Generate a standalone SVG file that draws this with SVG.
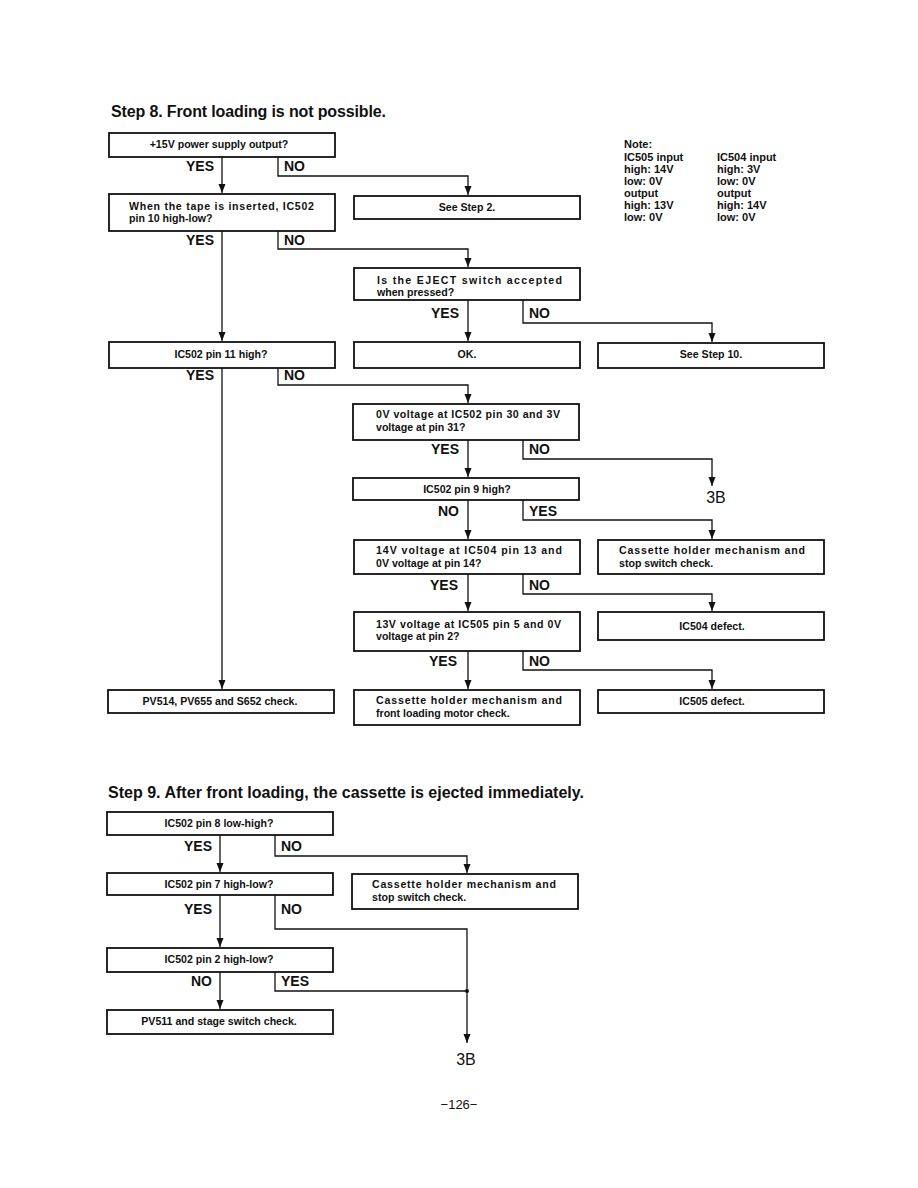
<svg xmlns="http://www.w3.org/2000/svg" width="918" height="1188" viewBox="0 0 918 1188">
<style>
.box{fill:#fff;stroke:#111;stroke-width:1.8}
.t{font-family:"Liberation Sans",Arial,sans-serif;font-weight:bold;font-size:10.6px;fill:#111}
.c{text-anchor:middle}
.yn{font-family:"Liberation Sans",Arial,sans-serif;font-weight:bold;font-size:14px;fill:#111}
.title{font-family:"Liberation Sans",Arial,sans-serif;font-weight:bold;font-size:16px;fill:#111}
.big{font-family:"Liberation Sans",Arial,sans-serif;font-size:16px;fill:#111;text-anchor:middle}
.note{font-family:"Liberation Sans",Arial,sans-serif;font-weight:bold;font-size:11px;fill:#111}
.ln{fill:none;stroke:#111;stroke-width:1.3}
</style>
<defs>
<marker id="ah" markerUnits="userSpaceOnUse" markerWidth="8" markerHeight="11" refX="9" refY="3.5" orient="auto">
<path d="M0,0 L9,3.5 L0,7 z" fill="#111"/>
</marker>
</defs>
<rect width="918" height="1188" fill="#fff"/>

<text class="title" x="111" y="117" textLength="275">Step 8. Front loading is not possible.</text>

<g id="note">
<text class="note" x="624" y="148">Note:</text>
<text class="note" x="624" y="161">IC505 input</text>
<text class="note" x="624" y="173">high: 14V</text>
<text class="note" x="624" y="185">low: 0V</text>
<text class="note" x="624" y="197">output</text>
<text class="note" x="624" y="209">high: 13V</text>
<text class="note" x="624" y="221">low: 0V</text>
<text class="note" x="717" y="161">IC504 input</text>
<text class="note" x="717" y="173">high: 3V</text>
<text class="note" x="717" y="185">low: 0V</text>
<text class="note" x="717" y="197">output</text>
<text class="note" x="717" y="209">high: 14V</text>
<text class="note" x="717" y="221">low: 0V</text>
</g>

<g id="connectors">
<path class="ln" d="M222,157 V193" marker-end="url(#ah)"/>
<path class="ln" d="M278,157 V176 H468 V195" marker-end="url(#ah)"/>
<path class="ln" d="M222,231 V341" marker-end="url(#ah)"/>
<path class="ln" d="M278,231 V249 H468 V267" marker-end="url(#ah)"/>
<path class="ln" d="M468,300 V341" marker-end="url(#ah)"/>
<path class="ln" d="M523,300 V323 H712 V342" marker-end="url(#ah)"/>
<path class="ln" d="M222,368 V689" marker-end="url(#ah)"/>
<path class="ln" d="M278,368 V385 H468 V403" marker-end="url(#ah)"/>
<path class="ln" d="M468,440 V477" marker-end="url(#ah)"/>
<path class="ln" d="M523,440 V459 H712 V486" marker-end="url(#ah)"/>
<path class="ln" d="M468,500 V539" marker-end="url(#ah)"/>
<path class="ln" d="M523,500 V520 H712 V539" marker-end="url(#ah)"/>
<path class="ln" d="M468,574 V611" marker-end="url(#ah)"/>
<path class="ln" d="M523,574 V594 H712 V611" marker-end="url(#ah)"/>
<path class="ln" d="M468,651 V689" marker-end="url(#ah)"/>
<path class="ln" d="M523,651 V670 H712 V689" marker-end="url(#ah)"/>

<path class="ln" d="M220,835 V872" marker-end="url(#ah)"/>
<path class="ln" d="M275,835 V856 H467 V873" marker-end="url(#ah)"/>
<path class="ln" d="M220,895 V947" marker-end="url(#ah)"/>
<path class="ln" d="M275,895 V929 H467 V1043" marker-end="url(#ah)"/>
<path class="ln" d="M220,972 V1009" marker-end="url(#ah)"/>
<path class="ln" d="M275,972 V991 H467"/>
<circle cx="467" cy="991" r="2" fill="#111"/>
</g>

<g id="labels">
<text class="yn" x="186" y="171">YES</text>
<text class="yn" x="284" y="171">NO</text>
<text class="yn" x="186" y="245">YES</text>
<text class="yn" x="284" y="245">NO</text>
<text class="yn" x="431" y="318">YES</text>
<text class="yn" x="529" y="318">NO</text>
<text class="yn" x="186" y="380">YES</text>
<text class="yn" x="284" y="380">NO</text>
<text class="yn" x="431" y="454">YES</text>
<text class="yn" x="529" y="454">NO</text>
<text class="yn" x="438" y="516">NO</text>
<text class="yn" x="529" y="516">YES</text>
<text class="yn" x="430" y="590">YES</text>
<text class="yn" x="529" y="590">NO</text>
<text class="yn" x="429" y="666">YES</text>
<text class="yn" x="529" y="666">NO</text>
<text class="yn" x="184" y="851">YES</text>
<text class="yn" x="281" y="851">NO</text>
<text class="yn" x="184" y="914">YES</text>
<text class="yn" x="281" y="914">NO</text>
<text class="yn" x="191" y="986">NO</text>
<text class="yn" x="281" y="986">YES</text>
<text class="big" x="716" y="503">3B</text>
<text class="big" x="466" y="1065">3B</text>
</g>

<g id="n1"><rect class="box" x="109" y="133" width="226" height="24"/><text class="t c" x="219" y="148">+15V power supply output?</text></g>
<g id="n2"><rect class="box" x="109" y="194" width="226" height="37"/><text class="t" x="129" y="210" textLength="185">When the tape is inserted, IC502</text><text class="t" x="129" y="222">pin 10 high-low?</text></g>
<g id="n3"><rect class="box" x="354" y="196" width="226" height="23"/><text class="t c" x="467" y="211">See Step 2.</text></g>
<g id="n4"><rect class="box" x="354" y="268" width="226" height="32"/><text class="t" x="377" y="284" textLength="185">Is the EJECT switch accepted</text><text class="t" x="377" y="296">when pressed?</text></g>
<g id="n5"><rect class="box" x="109" y="342" width="226" height="26"/><text class="t c" x="221" y="358">IC502 pin 11 high?</text></g>
<g id="n6"><rect class="box" x="354" y="342" width="226" height="26"/><text class="t c" x="467" y="358">OK.</text></g>
<g id="n7"><rect class="box" x="598" y="343" width="226" height="25"/><text class="t c" x="711" y="358">See Step 10.</text></g>
<g id="n8"><rect class="box" x="353" y="404" width="226" height="36"/><text class="t" x="376" y="418" textLength="184">0V voltage at IC502 pin 30 and 3V</text><text class="t" x="376" y="431">voltage at pin 31?</text></g>
<g id="n9"><rect class="box" x="353" y="478" width="226" height="22"/><text class="t c" x="467" y="493">IC502 pin 9 high?</text></g>
<g id="n10"><rect class="box" x="354" y="540" width="226" height="34"/><text class="t" x="376" y="554" textLength="186">14V voltage at IC504 pin 13 and</text><text class="t" x="376" y="567">0V voltage at pin 14?</text></g>
<g id="n11"><rect class="box" x="598" y="540" width="226" height="34"/><text class="t" x="619" y="554" textLength="186">Cassette holder mechanism and</text><text class="t" x="619" y="567">stop switch check.</text></g>
<g id="n12"><rect class="box" x="354" y="612" width="226" height="39"/><text class="t" x="376" y="628" textLength="185">13V voltage at IC505 pin 5 and 0V</text><text class="t" x="376" y="640">voltage at pin 2?</text></g>
<g id="n13"><rect class="box" x="598" y="612" width="226" height="28"/><text class="t c" x="712" y="630">IC504 defect.</text></g>
<g id="n14"><rect class="box" x="108" y="690" width="226" height="23"/><text class="t c" x="220" y="705">PV514, PV655 and S652 check.</text></g>
<g id="n15"><rect class="box" x="354" y="690" width="226" height="35"/><text class="t" x="376" y="704" textLength="186">Cassette holder mechanism and</text><text class="t" x="376" y="717">front loading motor check.</text></g>
<g id="n16"><rect class="box" x="598" y="690" width="226" height="23"/><text class="t c" x="712" y="705">IC505 defect.</text></g>

<text class="title" x="108" y="798" textLength="476">Step 9. After front loading, the cassette is ejected immediately.</text>

<g id="m1"><rect class="box" x="107" y="812" width="226" height="23"/><text class="t c" x="219" y="827">IC502 pin 8 low-high?</text></g>
<g id="m2"><rect class="box" x="107" y="873" width="226" height="22"/><text class="t c" x="219" y="888">IC502 pin 7 high-low?</text></g>
<g id="m3"><rect class="box" x="352" y="874" width="226" height="35"/><text class="t" x="372" y="888" textLength="184">Cassette holder mechanism and</text><text class="t" x="372" y="901">stop switch check.</text></g>
<g id="m4"><rect class="box" x="107" y="948" width="226" height="24"/><text class="t c" x="219" y="963">IC502 pin 2 high-low?</text></g>
<g id="m5"><rect class="box" x="107" y="1010" width="226" height="24"/><text class="t c" x="219" y="1025">PV511 and stage switch check.</text></g>

<text x="459" y="1109" font-family="Liberation Sans, Arial, sans-serif" font-size="13" text-anchor="middle" fill="#111">−126−</text>
</svg>
